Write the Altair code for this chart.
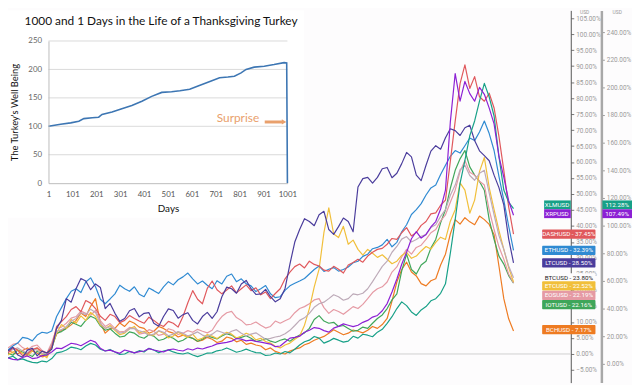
import altair as alt
import pandas as pd

# ---------------- main chart data: % change, 105 samples per series ----------------
LTC = [0.9, 2.1, -0.3, -1.0, 1.2, 1.8, -0.6, 0.9, 0.3, 1.5, 8.0, 10.5, 17.3, 16.2, 20.4, 23.6, 22.8, 20.1, 21.9, 20.8,
       14.2, 15.8, 12.7, 10.2, 11.1, 13.5, 14.2, 11.6, 12.7, 12.9, 9.6, 8.7, 11.7, 14.1, 13.6, 11.2, 12.3, 12.9, 10.5, 9.4,
       11.7, 13.0, 11.1, 13.2, 17.9, 20.9, 20.4, 19.0, 21.9, 23.0, 20.4, 18.6, 18.8, 20.2, 17.9, 16.3, 17.3, 20.5, 28.1, 35.0,
       38.9, 42.3, 41.4, 40.1, 43.5, 44.6, 38.9, 37.4, 39.8, 42.5, 41.4, 38.2, 52.2, 54.8, 55.2, 53.4, 55.2, 57.9, 58.3, 55.1,
       56.5, 59.5, 63.0, 61.6, 55.9, 54.2, 59.0, 63.4, 65.1, 64.0, 67.6, 70.4, 69.8, 68.3, 70.7, 71.5, 66.7, 63.5, 62.0, 60.4,
       55.9, 52.0, 46.6, 36.0, 28.5]
ETH = [1.2, 2.5, 3.4, 5.2, 4.9, 4.1, 5.9, 6.8, 6.5, 7.2, 11.7, 14.5, 17.3, 19.6, 20.4, 19.2, 22.5, 23.8, 21.0, 17.1,
       15.7, 17.2, 18.8, 21.5, 20.4, 19.6, 21.0, 18.7, 17.9, 20.6, 19.8, 18.9, 21.0, 22.6, 21.6, 23.2, 24.1, 25.3, 23.5, 21.9,
       22.8, 21.5, 20.4, 22.9, 21.9, 24.3, 25.0, 22.6, 23.5, 21.9, 21.3, 19.5, 20.4, 21.4, 18.8, 17.6, 17.9, 19.9, 21.3, 22.1,
       22.8, 23.6, 25.0, 26.4, 27.5, 25.8, 26.5, 27.0, 25.9, 26.4, 27.2, 28.5, 29.0, 30.5, 31.2, 32.9, 33.3, 34.1, 35.8, 33.5,
       34.9, 38.2, 40.4, 43.6, 45.1, 47.0, 49.7, 51.9, 52.8, 56.1, 59.0, 61.8, 63.6, 62.8, 65.1, 67.5, 66.7, 69.4, 72.8, 68.9,
       63.6, 55.5, 48.1, 40.0, 32.39]
DASH = [0.3, 2.0, 1.2, -0.5, 0.0, 1.4, 1.9, 0.8, 0.3, 2.2, 8.6, 10.1, 11.7, 13.9, 14.8, 13.2, 16.7, 15.9, 14.2, 11.8,
        10.5, 12.4, 11.7, 9.8, 10.5, 12.0, 11.1, 10.3, 9.6, 11.5, 10.5, 9.3, 8.6, 10.2, 9.6, 8.4, 11.7, 16.0, 19.8, 17.1,
        15.7, 20.5, 22.8, 20.1, 18.8, 20.0, 21.3, 19.1, 20.4, 21.6, 19.8, 20.7, 18.5, 19.4, 17.3, 18.9, 20.4, 23.5, 25.6, 27.3,
        28.1, 26.9, 29.0, 28.0, 27.5, 26.2, 25.9, 27.4, 26.5, 25.3, 27.8, 28.6, 29.6, 28.7, 30.6, 31.8, 32.7, 33.0, 34.3, 36.1,
        35.8, 37.9, 39.5, 36.9, 38.0, 40.2, 41.4, 43.8, 44.1, 46.5, 48.1, 60.2, 72.8, 84.5, 90.4, 83.0, 86.7, 80.4, 79.0, 81.5,
        76.9, 68.0, 57.4, 46.0, 37.45]
ETC = [-0.3, 0.6, 1.2, 0.2, -0.6, 0.9, 1.9, -0.1, -1.2, 2.0, 6.5, 9.2, 8.0, 10.8, 9.6, 11.9, 10.5, 13.0, 11.7, 9.1,
       8.0, 8.9, 7.4, 6.0, 6.5, 7.9, 8.6, 6.6, 7.1, 6.0, 5.9, 7.2, 6.5, 5.0, 5.6, 6.9, 5.9, 5.2, 6.2, 4.4,
       4.9, 6.1, 5.6, 4.8, 5.9, 6.8, 6.2, 5.0, 5.6, 6.5, 5.9, 4.4, 4.9, 3.9, 3.4, 2.4, 1.9, 2.8, 3.4, 4.6,
       5.6, 9.0, 14.2, 21.0, 26.5, 38.0, 45.7, 37.5, 36.4, 39.9, 34.3, 35.6, 32.7, 30.9, 32.7, 31.5, 30.2, 31.0, 29.6, 28.2,
       29.0, 30.8, 31.8, 29.9, 30.6, 32.2, 33.6, 32.8, 34.9, 36.5, 35.8, 41.5, 45.1, 53.5, 51.2, 44.0, 48.1, 57.0, 61.4, 52.0,
       45.1, 38.6, 32.7, 27.0, 22.52]
EOS = [1.9, 3.0, 3.4, 2.0, 1.2, 2.4, 2.8, 1.1, 0.3, 3.5, 8.0, 8.4, 9.6, 11.2, 11.7, 13.4, 12.7, 12.1, 13.6, 10.4,
       8.6, 9.5, 8.0, 6.9, 7.1, 8.3, 8.0, 6.2, 6.5, 7.6, 7.1, 5.8, 6.2, 7.9, 7.4, 6.1, 6.5, 7.3, 6.8, 7.7,
       7.1, 6.6, 7.4, 9.8, 11.7, 12.9, 13.3, 11.4, 10.5, 9.1, 9.3, 10.0, 9.0, 8.1, 8.6, 10.3, 9.6, 10.4, 11.1, 12.9,
       14.2, 14.8, 15.7, 16.9, 17.3, 14.5, 12.7, 13.9, 13.3, 12.4, 13.6, 14.8, 14.2, 15.5, 17.3, 19.2, 20.4, 21.0, 22.5, 25.6,
       27.2, 30.3, 32.7, 31.2, 33.3, 34.0, 35.8, 37.9, 38.9, 41.6, 43.5, 47.4, 51.2, 57.0, 60.5, 56.8, 55.9, 54.0, 52.8, 45.0,
       38.9, 33.5, 29.6, 25.0, 22.19]
IOT = [0.3, -0.4, 1.2, 0.6, 0.0, -0.8, 0.9, 0.1, -0.3, 1.8, 6.5, 7.0, 8.0, 9.9, 9.3, 8.6, 10.5, 11.8, 11.1, 8.8,
       7.4, 7.9, 6.5, 5.3, 5.6, 6.9, 6.5, 5.4, 4.9, 6.0, 5.6, 4.2, 4.6, 5.5, 4.9, 3.8, 4.3, 5.3, 4.9, 4.0,
       4.6, 5.6, 5.2, 4.7, 5.6, 6.3, 5.9, 4.8, 5.2, 5.7, 4.9, 3.9, 4.3, 4.8, 4.0, 3.6, 4.3, 4.7, 4.0, 5.1,
       5.9, 6.6, 8.0, 10.8, 12.0, 10.3, 9.6, 9.9, 8.6, 8.9, 8.0, 7.1, 7.4, 8.4, 8.0, 9.6, 11.1, 12.2, 14.2, 16.9,
       18.8, 26.0, 31.2, 26.4, 25.0, 27.8, 29.0, 33.1, 35.8, 41.0, 45.1, 51.8, 57.4, 61.0, 63.6, 58.5, 55.9, 53.9, 51.2, 42.0,
       35.8, 30.6, 28.1, 24.5, 22.16]
BCH = [1.2, 0.4, 0.0, 1.1, 1.9, 0.9, 0.3, -0.9, -0.6, 2.5, 6.2, 7.4, 8.0, 9.1, 10.5, 12.8, 11.7, 14.9, 17.3, 9.8,
       6.5, 7.9, 8.0, 9.7, 8.6, 10.3, 9.6, 8.4, 8.0, 6.5, 7.1, 8.6, 8.0, 7.0, 6.5, 5.3, 5.9, 5.6, 4.9, 3.9,
       4.3, 5.2, 4.6, 3.6, 4.0, 5.3, 4.9, 3.8, 4.3, 3.0, 3.4, 2.8, 2.5, 1.3, 1.9, 0.8, 0.3, 0.0, 0.9, 1.5,
       1.9, 2.9, 3.4, 4.3, 4.9, 5.5, 6.5, 7.6, 6.8, 6.0, 6.5, 7.5, 7.1, 6.6, 7.4, 8.6, 8.0, 9.2, 11.1, 16.5,
       22.5, 26.4, 28.7, 25.6, 24.4, 22.0, 21.3, 22.9, 23.5, 27.8, 31.2, 37.5, 42.0, 40.6, 42.6, 41.3, 40.4, 43.1, 42.0, 40.5,
       37.3, 27.5, 17.3, 11.0, 7.17]
BTC = [0.6, 1.4, 1.9, 0.9, 0.3, 1.7, 1.2, 0.2, 0.0, 2.9, 7.1, 7.6, 8.6, 10.2, 11.1, 12.9, 12.3, 14.0, 13.0, 9.6,
       8.0, 8.5, 7.7, 6.5, 6.8, 7.9, 8.0, 7.2, 6.8, 5.8, 6.2, 7.3, 6.8, 5.7, 6.2, 7.0, 6.5, 5.6, 6.2, 6.9,
       5.9, 5.4, 6.2, 7.3, 6.8, 6.2, 7.1, 7.6, 6.5, 5.7, 6.2, 6.6, 5.6, 4.6, 4.9, 5.3, 5.6, 6.3, 7.4, 8.9,
       10.5, 11.3, 12.7, 14.6, 15.7, 16.2, 17.3, 18.5, 17.9, 16.8, 17.3, 18.8, 18.5, 19.0, 20.4, 22.6, 25.0, 27.4, 29.0, 31.8,
       33.6, 35.9, 36.7, 35.0, 35.8, 36.8, 37.3, 39.5, 40.4, 43.0, 45.1, 49.6, 52.8, 57.6, 59.0, 55.8, 54.3, 56.5, 57.4, 50.3,
       43.5, 37.0, 32.7, 27.5, 23.8]
# plotted against the outer (right-most) scale
XLM = [4.3, 5.5, 2.9, 3.6, 2.1, 1.0, 0.7, 2.0, 1.4, 3.8, 7.9, 8.6, 10.0, 12.1, 11.4, 10.2, 12.9, 14.8, 13.6, 10.5,
       9.3, 10.4, 8.6, 6.8, 7.1, 8.9, 7.9, 9.5, 8.6, 11.2, 10.0, 8.0, 9.3, 10.1, 8.6, 7.5, 7.1, 8.0, 6.4, 5.2,
       6.4, 7.8, 7.9, 9.4, 10.0, 11.5, 10.0, 8.4, 9.3, 10.6, 9.3, 8.1, 7.9, 6.0, 6.4, 7.8, 7.1, 8.9, 7.9, 10.5,
       13.6, 16.0, 17.1, 19.8, 18.6, 15.0, 16.4, 18.4, 17.1, 15.7, 16.4, 19.9, 18.6, 21.4, 20.7, 19.6, 22.9, 25.0, 29.3, 34.1,
       40.0, 44.8, 42.1, 37.5, 35.0, 39.0, 41.4, 45.6, 47.1, 51.0, 57.9, 80.0, 104.3, 130.5, 147.1, 165.0, 175.7, 190.0, 202.9, 193.0,
       179.3, 150.0, 125.7, 117.0, 112.28]
XRP = [4.3, 3.2, 2.9, 4.6, 5.7, 3.8, 4.3, 5.9, 6.4, 8.5, 11.4, 11.0, 12.9, 14.9, 14.3, 13.1, 15.0, 17.0, 15.7, 11.2,
       9.3, 9.9, 8.6, 7.6, 10.0, 9.0, 7.9, 8.8, 9.3, 11.0, 10.0, 9.2, 8.6, 10.1, 10.7, 9.8, 9.3, 10.9, 10.0, 11.4,
       10.7, 11.9, 12.9, 14.4, 15.0, 15.5, 16.4, 18.3, 17.9, 16.6, 17.1, 16.2, 15.7, 15.0, 14.3, 12.4, 12.9, 15.8, 18.6, 19.1,
       20.0, 22.8, 24.3, 26.2, 25.7, 24.0, 22.9, 25.8, 27.1, 28.9, 27.9, 26.9, 27.9, 30.0, 31.4, 33.8, 35.0, 38.4, 43.6, 52.0,
       61.4, 72.0, 80.7, 90.5, 95.7, 91.0, 93.6, 99.0, 102.9, 112.0, 125.7, 175.0, 210.0, 190.0, 204.3, 195.5, 190.0, 200.0, 195.0, 185.0,
       173.6, 150.0, 135.0, 118.0, 107.49]

NAMES1 = ["BCHUSD", "IOTUSD", "EOSUSD", "ETCUSD", "BTCUSD", "ETHUSD", "DASHUSD", "LTCUSD"]
SERIES1 = [BCH, IOT, EOS, ETC, BTC, ETH, DASH, LTC]
NAMES2 = ["XLMUSD", "XRPUSD"]
SERIES2 = [XLM, XRP]

# right-hand labels
LAB1_NAMES = ["DASHUSD", "ETHUSD", "LTCUSD", "BTCUSD", "ETCUSD", "EOSUSD", "IOTUSD", "BCHUSD"]
LAB1_FINAL = [37.45, 32.39, 28.50, 23.80, 22.52, 22.19, 22.16, 7.17]
LAB1_POS = [37.45, 32.39, 28.5, 23.8, 21.3, 18.3, 15.4, 7.6]
LAB2_NAMES = ["XLMUSD", "XRPUSD"]
LAB2_FINAL = [112.28, 107.49]
LAB2_POS = [115.0, 108.6]

AX1_TICKS = list(range(-5, 106, 5))
AX2_TICKS = list(range(0, 241, 20))

# ---------------- inset (turkey) data ----------------
DAYS = [1, 52, 94, 128, 149, 184, 211, 225, 267, 308, 350, 392, 433, 475, 516, 551, 592, 627, 682, 717,
        752, 779, 807, 828, 862, 904, 945, 987, 998, 1001]
WELL = [100, 103.7, 106, 109, 113.5, 115, 116, 121, 125, 131, 136.5, 144, 152.6, 159.6, 160.7, 162.4, 165.3, 171, 179.7, 185.5,
        186.6, 188, 194, 200, 204, 205.6, 208.5, 212, 211.4, 0]
INSET_X_TICKS = [1, 101, 201, 301, 401, 501, 601, 701, 801, 901, 1001]
INSET_Y_TICKS = [0, 50, 100, 150, 200, 250]
TITLE = "1000 and 1 Days in the Life of a Thanksgiving Turkey"

# ---------------- styles ----------------
COLORS = {
    "BCHUSD": "#ee7b22", "IOTUSD": "#3fa65a", "EOSUSD": "#e59aa4", "ETCUSD": "#f1bf3a",
    "BTCUSD": "#bdaab8", "ETHUSD": "#2f8ad2", "DASHUSD": "#e0585c", "LTCUSD": "#4a3c9c",
    "XLMUSD": "#17a087", "XRPUSD": "#8c20d4",
}
ALL = NAMES1 + NAMES2
CSCALE = alt.Scale(domain=ALL, range=[COLORS[n] for n in ALL])
ORANGE = "#e9a06c"

W, H = 512, 377
SX = alt.Scale(domain=[0, 104], nice=False, zero=False)
S1 = alt.Scale(domain=[-8.95, 107.4], nice=False, zero=False)
S2 = alt.Scale(domain=[-13.6, 255.7], nice=False, zero=False)
IX = alt.Scale(domain=[1, 1001], range=[41, 283], nice=False, zero=False)
IY = alt.Scale(domain=[0, 250], range=[175, 31], nice=False, zero=False)

LBL = "format(datum.value, '.2f') + '%'"
AX1 = alt.Axis(orient="right", offset=58, values=AX1_TICKS, labelExpr=LBL, labelFontSize=6.5,
               labelColor="#9a9a9a", labelFont="Roboto", tickSize=3, tickColor="#777",
               domainColor="#555", domainWidth=1, grid=False, title=None, labelPadding=2,
               labelOverlap=False, labelFlush=False)
AX2 = alt.Axis(orient="right", offset=89, values=AX2_TICKS, labelExpr=LBL, labelFontSize=6.5,
               labelColor="#9a9a9a", labelFont="Roboto", tickSize=3, tickColor="#999",
               domainColor="#a8a8a8", domainWidth=2.5, grid=False, title=None, labelPadding=2,
               labelOverlap=False, labelFlush=False)
IXAX = alt.Axis(orient="bottom", offset=-202, values=INSET_X_TICKS, format="d", labelFontSize=8,
                labelColor="#555", labelFont="Lato", ticks=False, domainColor="#bcbcbc", grid=False,
                title="Days", titleFont="Lato", titleFontSize=10, titleFontWeight="normal",
                titleColor="#111", titlePadding=5, labelPadding=8, labelFlush=False,
                labelOverlap=False, zindex=2)
IYAX = alt.Axis(orient="left", offset=-41, values=INSET_Y_TICKS, format="d", labelFontSize=8,
                labelColor="#666", labelFont="Lato", ticks=False, domainColor="#bcbcbc", grid=False,
                title="The Turkey's Well Being", titleFont="Lato", titleFontSize=9.5,
                titleFontWeight="normal", titleColor="#111", titlePadding=8, labelPadding=7,
                labelOverlap=False, labelFlush=False, zindex=2)

# ---------------- tables ----------------
df1 = pd.DataFrame([{"t": i, "s": n, "v": v} for n, vals in zip(NAMES1, SERIES1) for i, v in enumerate(vals)])
df2 = pd.DataFrame([{"t": i, "s": n, "v": v} for n, vals in zip(NAMES2, SERIES2) for i, v in enumerate(vals)])
turkey = pd.DataFrame({"day": DAYS, "w": WELL})
lab1 = pd.DataFrame({"s": LAB1_NAMES, "final": LAB1_FINAL, "ly": LAB1_POS})
lab2 = pd.DataFrame({"s": LAB2_NAMES, "final": LAB2_FINAL, "ly": LAB2_POS})

baseline = alt.Chart(pd.DataFrame({"zero": [0]})).mark_rule(color="#cfcfcf", strokeWidth=1).encode(
    y=alt.Y("zero:Q", scale=S1, axis=AX1), x=alt.value(0), x2=alt.value(570))

lines1 = alt.Chart(df1).mark_line(strokeWidth=1.2, strokeJoin="round").encode(
    x=alt.X("t:Q", scale=SX, axis=None),
    y=alt.Y("v:Q", scale=S1, axis=None),
    color=alt.Color("s:N", scale=CSCALE, legend=None))

lines2 = alt.Chart(df2).mark_line(strokeWidth=1.2, strokeJoin="round").encode(
    x=alt.X("t:Q", scale=SX, axis=None),
    y=alt.Y("v:Q", scale=S2, axis=AX2),
    color=alt.Color("s:N", scale=CSCALE, legend=None))

inset_bg = alt.Chart(pd.DataFrame({"a": [0]})).mark_rect(color="white").encode(
    x=alt.value(0), x2=alt.value(300), y=alt.value(0), y2=alt.value(210))

inset_grid = alt.Chart(pd.DataFrame({"g": INSET_Y_TICKS[1:]})).transform_calculate(
    a="1", b="1001").mark_rule(color="#d9d9d9", strokeWidth=1).encode(
    x=alt.X("a:Q", scale=IX, axis=None), x2="b:Q", y=alt.Y("g:Q", scale=IY, axis=None))

inset_line = alt.Chart(turkey).mark_line(color="#3d76b3", strokeWidth=1.6).encode(
    x=alt.X("day:Q", scale=IX, axis=IXAX), y=alt.Y("w:Q", scale=IY, axis=IYAX))

surprise = alt.Chart(pd.DataFrame({"d": [794], "w": [114.6], "txt": ["Surprise"]})).mark_text(
    font="Lato", fontSize=12, color=ORANGE).encode(
    x=alt.X("d:Q", scale=IX, axis=None), y=alt.Y("w:Q", scale=IY, axis=None), text="txt:N")

arrow = alt.Chart(pd.DataFrame({"d0": [906], "d1": [982], "w": [107.6]})).mark_rule(
    color=ORANGE, strokeWidth=3).encode(
    x=alt.X("d0:Q", scale=IX, axis=None), x2="d1:Q", y=alt.Y("w:Q", scale=IY, axis=None))
arrow_head = alt.Chart(pd.DataFrame({"d": [987], "w": [107.6]})).mark_point(
    shape="triangle-right", size=28, filled=True, color=ORANGE, opacity=1).encode(
    x=alt.X("d:Q", scale=IX, axis=None), y=alt.Y("w:Q", scale=IY, axis=None))

title = alt.Chart(pd.DataFrame({"txt": [TITLE]})).mark_text(
    font="Lato", fontSize=12, color="#111", align="center", baseline="middle").encode(
    x=alt.value(155), y=alt.value(11), text="txt:N")

box1 = alt.Chart(lab1).transform_calculate(y0="datum.ly - 1.45", y1="datum.ly + 1.45").mark_rect(
    cornerRadius=1).encode(
    x=alt.value(541), x2=alt.value(595),
    y=alt.Y("y0:Q", scale=S1, axis=None), y2="y1:Q",
    color=alt.condition(alt.datum.s == "BTCUSD", alt.value("#fdfcfd"),
                        alt.Color("s:N", scale=CSCALE, legend=None)))
text1 = alt.Chart(lab1).transform_calculate(
    lab="datum.s + ' - ' + format(datum.final, '.2f') + '%'").mark_text(
    font="Roboto", fontSize=6.3, align="center", baseline="middle").encode(
    x=alt.value(568), y=alt.Y("ly:Q", scale=S1, axis=None), text="lab:N",
    color=alt.condition(alt.datum.s == "BTCUSD", alt.value("#222222"), alt.value("white")))

box2a = alt.Chart(lab2).transform_calculate(y0="datum.ly - 3.2", y1="datum.ly + 3.2").mark_rect().encode(
    x=alt.value(543), x2=alt.value(570),
    y=alt.Y("y0:Q", scale=S2, axis=None), y2="y1:Q",
    color=alt.Color("s:N", scale=CSCALE, legend=None))
box2b = alt.Chart(lab2).transform_calculate(y0="datum.ly - 3.2", y1="datum.ly + 3.2").mark_rect().encode(
    x=alt.value(602), x2=alt.value(632),
    y=alt.Y("y0:Q", scale=S2, axis=None), y2="y1:Q",
    color=alt.Color("s:N", scale=CSCALE, legend=None))
text2a = alt.Chart(lab2).mark_text(font="Roboto", fontSize=6.3, color="white",
                                   align="center", baseline="middle").encode(
    x=alt.value(556), y=alt.Y("ly:Q", scale=S2, axis=None), text="s:N")
text2b = alt.Chart(lab2).transform_calculate(lab="format(datum.final, '.2f') + '%'").mark_text(
    font="Roboto", fontSize=6.3, color="white", align="center", baseline="middle").encode(
    x=alt.value(617), y=alt.Y("ly:Q", scale=S2, axis=None), text="lab:N")

usd = alt.Chart(pd.DataFrame({"txt": ["USD"]})).mark_text(
    font="Roboto", fontSize=5, color="#999", baseline="top").encode(
    x=alt.value(584), y=alt.value(0), text="txt:N")
usd2 = alt.Chart(pd.DataFrame({"txt": ["USD"]})).mark_text(
    font="Roboto", fontSize=5, color="#999", baseline="top").encode(
    x=alt.value(617), y=alt.value(0), text="txt:N")

chart = alt.layer(
    baseline, lines1, lines2, inset_bg, inset_grid, inset_line, surprise, arrow, arrow_head, title,
    box1, text1, box2a, box2b, text2a, text2b, usd, usd2
).resolve_scale(x="independent", y="independent").properties(
    width=W, height=H, autosize="none",
    padding={"left": 0, "top": 0, "right": 120, "bottom": 0},
    background="#fdfcfd"
).configure_view(stroke=None)

chart.save("out.html", embed_options={"renderer": "svg", "actions": False})
